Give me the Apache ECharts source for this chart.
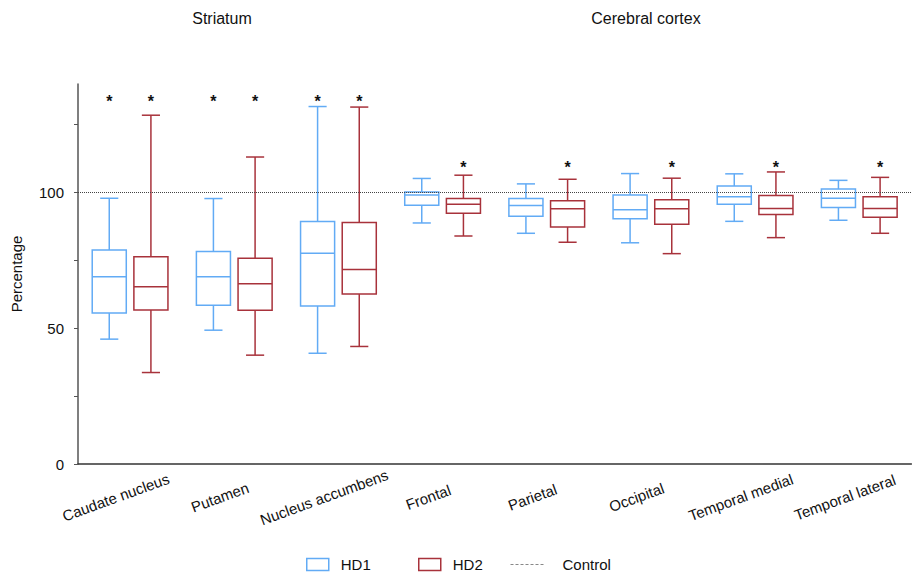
<!DOCTYPE html>
<html>
<head>
<meta charset="utf-8">
<script src="https://cdn.jsdelivr.net/npm/echarts@6/dist/echarts.min.js"></script>
<style>
  html, body { margin: 0; padding: 0; background: #fff; }
  #chart { width: 917px; height: 577px; }
</style>
</head>
<body>
<div id="chart"></div>
<script>
// ---- data ----
const categories = ['Caudate nucleus', 'Putamen', 'Nucleus accumbens', 'Frontal', 'Parietal', 'Occipital', 'Temporal medial', 'Temporal lateral'];
// [min, Q1, median, Q3, max]
const hd1 = [
  [46.0, 55.6, 69.0, 78.8, 97.9],
  [49.3, 58.5, 69.0, 78.3, 97.8],
  [40.8, 58.2, 77.6, 89.3, 131.7],
  [88.8, 95.3, 99.1, 100.2, 105.2],
  [85.0, 91.3, 95.2, 97.8, 103.2],
  [81.5, 90.4, 93.7, 99.1, 107.0],
  [89.4, 95.7, 98.5, 102.4, 106.9],
  [89.8, 94.5, 97.9, 101.3, 104.5]
];
const hd2 = [
  [33.7, 56.7, 65.3, 76.4, 128.5],
  [40.1, 56.6, 66.4, 75.8, 113.1],
  [43.3, 62.6, 71.7, 89.0, 131.5],
  [84.0, 92.4, 95.7, 97.8, 106.4],
  [81.7, 87.3, 94.0, 97.0, 104.9],
  [77.5, 88.3, 94.0, 97.4, 105.3],
  [83.4, 91.9, 94.1, 98.9, 107.6],
  [85.0, 90.9, 94.1, 98.5, 105.6]
];
// significance asterisk levels (null = none)
const hd1Stars = [135, 135, 135, null, null, null, null, null];
const hd2Stars = [135, 135, 135, 110.8, 110.8, 110.8, 110.8, 110.8];
const controlLevel = 100;
const yTickValues = [0, 25, 50, 75, 100, 125];
const yLabelValues = [0, 50, 100];
const groupTitles = ['Striatum', 'Cerebral cortex'];

// ---- styling ----
const BLUE = '#62abf5';
const RED = '#a8323b';
const FONT = '"Liberation Sans", Arial, Helvetica, sans-serif';

function boxRenderer(color, side) {
  return function (params, api) {
    const idx = api.value(0);
    const band = api.size([1, 0])[0];
    const cx = api.coord([idx, 0])[0] + side * band * 0.2;
    const half = band * 0.1635;
    const cap = band * 0.087;
    const y = function (v) { return api.coord([idx, v])[1]; };
    const yMin = y(api.value(1)), yQ1 = y(api.value(2)), yMed = y(api.value(3)), yQ3 = y(api.value(4)), yMax = y(api.value(5));
    const ls = { stroke: color, lineWidth: 1.5, fill: null };
    return {
      type: 'group',
      children: [
        { type: 'line', shape: { x1: cx, y1: yMax, x2: cx, y2: yQ3 }, style: ls },
        { type: 'line', shape: { x1: cx, y1: yQ1, x2: cx, y2: yMin }, style: ls },
        { type: 'line', shape: { x1: cx - cap, y1: yMax, x2: cx + cap, y2: yMax }, style: ls },
        { type: 'line', shape: { x1: cx - cap, y1: yMin, x2: cx + cap, y2: yMin }, style: ls },
        { type: 'rect', shape: { x: cx - half, y: yQ3, width: half * 2, height: yQ1 - yQ3 }, style: { stroke: color, lineWidth: 1.5, fill: '#fff' } },
        { type: 'line', shape: { x1: cx - half, y1: yMed, x2: cx + half, y2: yMed }, style: ls }
      ]
    };
  };
}

function starRenderer(side) {
  return function (params, api) {
    const idx = api.value(0);
    const band = api.size([1, 0])[0];
    const p = api.coord([idx, api.value(1)]);
    return {
      type: 'text',
      x: p[0] + side * band * 0.2,
      y: p[1] + 4,
      style: { text: '*', fontSize: 16, fontWeight: 'bold', fontFamily: FONT, fill: '#111', align: 'center', verticalAlign: 'middle' }
    };
  };
}

function boxData(arr) { return arr.map(function (d, i) { return [i].concat(d); }); }
function starData(arr) {
  const out = [];
  arr.forEach(function (v, i) { if (v != null) out.push([i, v]); });
  return out;
}

const chart = echarts.init(document.getElementById('chart'), null, { renderer: 'svg' });

chart.setOption({
  animation: false,
  backgroundColor: '#fff',
  textStyle: { fontFamily: FONT },
  graphic: [
    { type: 'text', x: 222, y: 18, style: { text: groupTitles[0], fontSize: 16, fontFamily: FONT, fill: '#111', align: 'center', verticalAlign: 'middle' } },
    { type: 'text', x: 646, y: 18, style: { text: groupTitles[1], fontSize: 16, fontFamily: FONT, fill: '#111', align: 'center', verticalAlign: 'middle' } }
  ],
  legend: [
    {
      left: 306, top: 557, padding: 0, itemWidth: 22, itemHeight: 12,
      textStyle: { fontSize: 15, color: '#111', fontFamily: FONT, padding: [0, 0, 0, 7] },
      data: [{ name: 'HD1', icon: 'rect', itemStyle: { color: '#fff', borderColor: BLUE, borderWidth: 1.5 } }]
    },
    {
      left: 418, top: 557, padding: 0, itemWidth: 22, itemHeight: 12,
      textStyle: { fontSize: 15, color: '#111', fontFamily: FONT, padding: [0, 0, 0, 7] },
      data: [{ name: 'HD2', icon: 'rect', itemStyle: { color: '#fff', borderColor: RED, borderWidth: 1.5 } }]
    },
    {
      left: 510, top: 557, padding: 0, itemWidth: 33, itemHeight: 12,
      textStyle: { fontSize: 15, color: '#111', fontFamily: FONT, padding: [0, 0, 0, 14] },
      data: [{ name: 'Control', itemStyle: { opacity: 0 }, lineStyle: { type: [3, 2], color: '#888', width: 1, opacity: 1 } }]
    }
  ],
  grid: { left: 78, right: 0, top: 84, bottom: 113, containLabel: false },
  xAxis: {
    type: 'category',
    data: categories,
    boundaryGap: true,
    axisLine: { lineStyle: { color: '#333', width: 1.5 } },
    axisTick: { alignWithLabel: true, length: 3, lineStyle: { color: '#333', width: 1 } },
    axisLabel: {
      interval: 0,
      rotate: 20,
      margin: 20,
      align: 'center',
      verticalAlign: 'top',
      formatter: function (v) { return '{t|' + v + '}{s|}'; },
      rich: {
        t: { fontSize: 15, color: '#111', fontFamily: FONT },
        s: { width: 36 }
      }
    },
    splitLine: { show: false }
  },
  yAxis: {
    type: 'value',
    min: 0,
    max: 140,
    interval: 25,
    name: 'Percentage',
    nameLocation: 'middle',
    nameGap: 54,
    nameTextStyle: { fontSize: 15, color: '#111', fontFamily: FONT },
    axisLine: { show: true, lineStyle: { color: '#555', width: 1.5 } },
    axisTick: { show: true, length: 4, customValues: yTickValues, lineStyle: { color: '#555', width: 1 } },
    axisLabel: { fontSize: 15, color: '#111', margin: 14, customValues: yLabelValues, fontFamily: FONT },
    splitLine: { show: false }
  },
  series: [
    {
      name: 'Control',
      type: 'line',
      data: [],
      symbol: 'none',
      showSymbol: false,
      lineStyle: { type: [3, 2], color: '#888', width: 1 },
      itemStyle: { color: '#888' },
      markLine: {
        silent: true,
        symbol: 'none',
        label: { show: false },
        lineStyle: { type: 'dotted', color: '#444', width: 1 },
        data: [{ yAxis: controlLevel }]
      }
    },
    {
      name: 'HD1',
      type: 'custom',
      renderItem: boxRenderer(BLUE, -1),
      itemStyle: { color: BLUE },
      encode: { x: 0, y: [1, 2, 3, 4, 5] },
      data: boxData(hd1),
      z: 3
    },
    {
      name: 'HD2',
      type: 'custom',
      renderItem: boxRenderer(RED, 1),
      itemStyle: { color: RED },
      encode: { x: 0, y: [1, 2, 3, 4, 5] },
      data: boxData(hd2),
      z: 3
    },
    {
      name: 'HD1 significance',
      type: 'custom',
      renderItem: starRenderer(-1),
      encode: { x: 0, y: 1 },
      data: starData(hd1Stars),
      z: 4
    },
    {
      name: 'HD2 significance',
      type: 'custom',
      renderItem: starRenderer(1),
      encode: { x: 0, y: 1 },
      data: starData(hd2Stars),
      z: 4
    }
  ]
});
</script>
</body>
</html>
